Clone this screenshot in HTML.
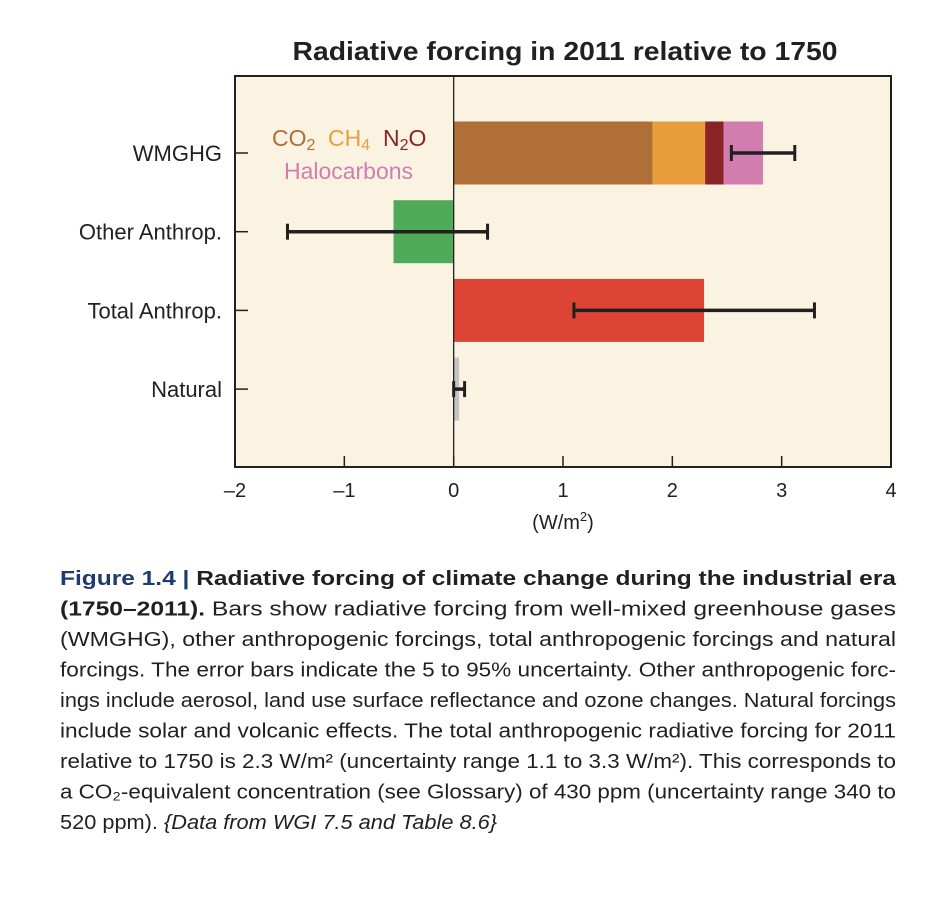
<!DOCTYPE html>
<html><head><meta charset="utf-8"><style>
html,body{margin:0;padding:0;background:#fff;width:930px;height:898px;overflow:hidden}
svg text{font-family:"Liberation Sans",sans-serif}
</style></head><body>
<svg id="chart" width="930" height="898" viewBox="0 0 930 898" xmlns="http://www.w3.org/2000/svg">
<text x="565" y="60" text-anchor="middle" font-size="26" font-weight="bold" textLength="545" lengthAdjust="spacingAndGlyphs" fill="#231f20">Radiative forcing in 2011 relative to 1750</text>
<rect x="235" y="76" width="656" height="391" fill="#fbf3e1" stroke="#231f20" stroke-width="2"/>
<g id="bars"></g>
<g id="axes"></g>
<g font-size="23">
<text x="272" y="146" fill="#b06f36">CO<tspan font-size="16" dy="4">2</tspan></text>
<text x="328" y="146" fill="#e99e3e">CH<tspan font-size="16" dy="4">4</tspan></text>
<text x="383" y="146" fill="#8a2424">N<tspan font-size="16" dy="4">2</tspan><tspan dy="-4">O</tspan></text>
<text x="284" y="179" fill="#d27daf" textLength="129" lengthAdjust="spacingAndGlyphs">Halocarbons</text>
</g>
<text x="563" y="529" text-anchor="middle" font-size="20" fill="#231f20">(W/m<tspan font-size="13" dy="-8">2</tspan><tspan dy="8">)</tspan></text>
<g id="caption" font-size="20" fill="#231f20"></g>
</svg>
<script>
const categories = ["WMGHG", "Other Anthrop.", "Total Anthrop.", "Natural"];
const wmghgParts = ["CO2", "CH4", "N2O", "Halocarbons"];
const wmghgValues = [1.82, 0.48, 0.17, 0.36];
const barValues = [null, -0.55, 2.29, 0.05];
const errLow = [2.54, -1.52, 1.1, 0.0];
const errHigh = [3.12, 0.31, 3.3, 0.1];
const xTicks = [-2, -1, 0, 1, 2, 3, 4];
const xTickLabels = ["\u20132", "\u20131", "0", "1", "2", "3", "4"];

const NS = "http://www.w3.org/2000/svg";
const X0 = 235, X1 = 891, DMIN = -2, DMAX = 4;
const xs = v => X0 + (v - DMIN) / (DMAX - DMIN) * (X1 - X0);
const rowCenter = i => 153 + i * 78.7;
const BH = 63;
function mk(tag, attrs, parent) { const e = document.createElementNS(NS, tag); for (const k in attrs) e.setAttribute(k, attrs[k]); parent.appendChild(e); return e; }
const bars = document.getElementById("bars"), axes = document.getElementById("axes");
const partColors = ["#b06f36", "#e99e3e", "#8a2424", "#d27daf"];
const barColors = [null, "#4fab57", "#dc4535", "#c4c4c4"];

let acc = 0;
wmghgValues.forEach((v, j) => {
  const r = mk("rect", {x: xs(acc), y: rowCenter(0) - BH / 2, width: xs(acc + v) - xs(acc), height: BH, fill: partColors[j]}, bars);
  
  
  acc += v;
});
barValues.forEach((v, i) => {
  if (v === null) return;
  const a = Math.min(xs(0), xs(v)), b = Math.max(xs(0), xs(v));
  const w = i === 3 ? Math.max(b - a, 5) : b - a;
  const r = mk("rect", {x: a, y: rowCenter(i) - BH / 2, width: w, height: BH, fill: barColors[i]}, bars);
  
  
});
const zl = mk("line", {x1: xs(0), x2: xs(0), y1: 76, y2: 467, stroke: "#231f20", "stroke-width": 1.3}, axes);


errLow.forEach((lo, i) => {
  const g = mk("g", {stroke: "#231f20", "stroke-width": 3.5}, bars);
  
  
  const y = rowCenter(i);
  mk("line", {x1: xs(lo), x2: xs(errHigh[i]), y1: y, y2: y}, g);
  mk("line", {x1: xs(lo), x2: xs(lo), y1: y - 8, y2: y + 8, "stroke-width": 3}, g);
  mk("line", {x1: xs(errHigh[i]), x2: xs(errHigh[i]), y1: y - 8, y2: y + 8, "stroke-width": 3}, g);
});
categories.forEach((c, i) => {
  const y = rowCenter(i);
  mk("line", {x1: 235, x2: 248, y1: y, y2: y, stroke: "#231f20", "stroke-width": 1.5}, axes);
  const t = mk("text", {x: 222, y: y + 8, "text-anchor": "end", "font-size": 22, fill: "#231f20"}, axes);
  
  
  t.textContent = c;
});
xTicks.forEach((v, i) => {
  mk("line", {x1: xs(v), x2: xs(v), y1: 456, y2: 467, stroke: "#231f20", "stroke-width": 1.5}, axes);
  const t = mk("text", {x: xs(v), y: 497, "text-anchor": "middle", "font-size": 20, fill: "#231f20"}, axes);
  
  
  t.textContent = xTickLabels[i];
});
const cap = document.getElementById("caption");
const lines = [
  '<tspan font-weight="bold" fill="#1f3a6e">Figure 1.4 | </tspan><tspan font-weight="bold">Radiative forcing of climate change during the industrial era</tspan>',
  '<tspan font-weight="bold">(1750–2011).</tspan> Bars show radiative forcing from well-mixed greenhouse gases',
  '(WMGHG), other anthropogenic forcings, total anthropogenic forcings and natural',
  'forcings. The error bars indicate the 5 to 95% uncertainty. Other anthropogenic forc-',
  'ings include aerosol, land use surface reflectance and ozone changes. Natural forcings',
  'include solar and volcanic effects. The total anthropogenic radiative forcing for 2011',
  'relative to 1750 is 2.3 W/m² (uncertainty range 1.1 to 3.3 W/m²). This corresponds to',
  'a CO₂-equivalent concentration (see Glossary) of 430 ppm (uncertainty range 340 to',
  '520 ppm). <tspan font-style="italic">{Data from WGI 7.5 and Table 8.6}</tspan>'
];
lines.forEach((l, i) => {
  const t = mk("text", {x: 60, y: 585 + i * 30.5, textLength: i === 8 ? 437 : 836, lengthAdjust: "spacingAndGlyphs"}, cap);
  
  
  t.innerHTML = l;
});
</script>
</body></html>
